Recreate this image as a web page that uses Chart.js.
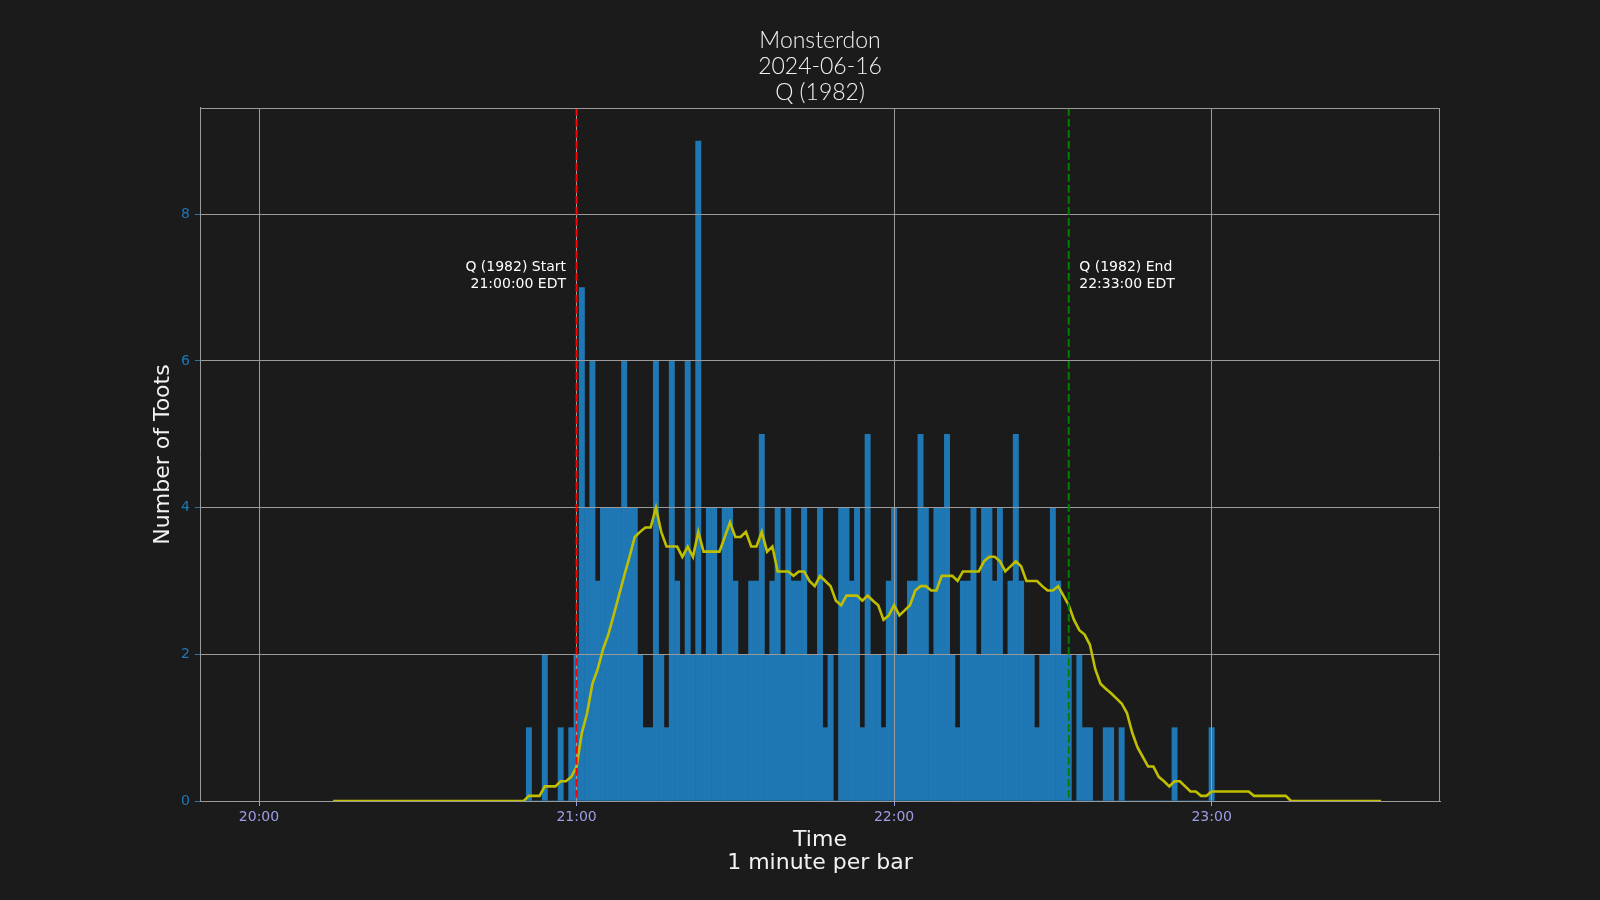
<!DOCTYPE html>
<html>
<head>
<meta charset="utf-8">
<script src="https://cdn.jsdelivr.net/npm/chart.js@4.4.1/dist/chart.umd.min.js"></script>
<style>
  html, body { margin: 0; padding: 0; background: #1b1b1b; }
  #wrap { width: 1600px; height: 900px; }
</style>
</head>
<body>
<div id="wrap"><canvas id="tootChart" width="1600" height="900"></canvas></div>
<script>
const titleLines = ['Monsterdon', '2024-06-16', 'Q (1982)'];
const axisOrigin = '20:00';
const xTickTimes = ['20:00', '21:00', '22:00', '23:00'];
const yTicks = [0, 2, 4, 6, 8];

// toots per minute, one value per minute starting at barStart
const barStart = '20:51';
const tootsPerMinute = [
    1, 0, 0, 2, 0, 0, 1, 0, 1, 2,
    7, 4, 6, 3, 4, 4, 4, 4, 6, 4,
    4, 2, 1, 1, 6, 2, 1, 6, 3, 2,
    6, 2, 9, 2, 4, 4, 2, 4, 4, 3,
    2, 2, 3, 3, 5, 2, 3, 4, 2, 4,
    3, 3, 4, 2, 2, 4, 1, 2, 0, 4,
    4, 3, 4, 1, 5, 2, 2, 1, 3, 4,
    2, 2, 3, 3, 5, 4, 2, 4, 4, 5,
    2, 1, 3, 3, 4, 2, 4, 4, 3, 4,
    2, 3, 5, 3, 2, 2, 1, 2, 2, 4,
    3, 2, 2, 0, 2, 1, 1, 0, 0, 1,
    1, 0, 1, 0, 0, 0, 0, 0, 0, 0,
    0, 0, 1, 0, 0, 0, 0, 0, 0, 1
];

// 15 minute rolling average (yellow line), one value per minute from avgStart
const avgStart = '20:14';
const rollingAvg = [
    0, 0, 0, 0, 0, 0, 0, 0, 0, 0,
    0, 0, 0, 0, 0, 0, 0, 0, 0, 0,
    0, 0, 0, 0, 0, 0, 0, 0, 0, 0,
    0, 0, 0, 0, 0, 0, 0,
    0.07, 0.07, 0.07, 0.2, 0.2, 0.2, 0.27, 0.27, 0.33, 0.47,
    0.93, 1.2, 1.6, 1.8, 2.07, 2.27, 2.53, 2.8, 3.07, 3.33,
    3.6, 3.67, 3.73, 3.73, 4, 3.67, 3.47, 3.47, 3.47, 3.33,
    3.47, 3.33, 3.67, 3.4, 3.4, 3.4, 3.4, 3.6, 3.8, 3.6,
    3.6, 3.67, 3.47, 3.47, 3.67, 3.4, 3.47, 3.13, 3.13, 3.13,
    3.07, 3.13, 3.13, 3, 2.93, 3.07, 3, 2.93, 2.73, 2.67,
    2.8, 2.8, 2.8, 2.73, 2.8, 2.73, 2.67, 2.47, 2.53, 2.67,
    2.53, 2.6, 2.67, 2.87, 2.93, 2.93, 2.87, 2.87, 3.07, 3.07,
    3.07, 3, 3.13, 3.13, 3.13, 3.13, 3.27, 3.33, 3.33, 3.27,
    3.13, 3.2, 3.27, 3.2, 3, 3, 3, 2.93, 2.87, 2.87,
    2.93, 2.8, 2.67, 2.47, 2.33, 2.27, 2.13, 1.8, 1.6, 1.53,
    1.47, 1.4, 1.33, 1.2, 0.93, 0.73, 0.6, 0.47, 0.47, 0.33,
    0.27, 0.2, 0.27, 0.27, 0.2, 0.13, 0.13, 0.07, 0.07, 0.13,
    0.13, 0.13, 0.13, 0.13, 0.13, 0.13, 0.13, 0.07, 0.07, 0.07,
    0.07, 0.07, 0.07, 0.07, 0, 0, 0, 0, 0, 0,
    0, 0, 0, 0, 0, 0, 0, 0, 0, 0, 0, 0
];

const markerTimes = ['21:00', '22:33'];
const markerColors = ['#ff0000', '#008000'];
const markerText = [
    ['Q (1982) Start', '21:00:00 EDT'],
    ['Q (1982) End', '22:33:00 EDT']
];
const markerTextY = 7;

function toMinutes(t) {
    const [h, m] = t.split(':').map(Number);
    const [h0, m0] = axisOrigin.split(':').map(Number);
    return (h * 60 + m) - (h0 * 60 + m0);
}

const barPoints = tootsPerMinute.map((v, i) => ({ x: toMinutes(barStart) + i, y: v }));
const avgPoints = rollingAvg.map((v, i) => ({ x: toMinutes(avgStart) + i, y: v }));

const gridColor = '#9a9a9a';
const yTickColor = '#1f77b4';
const xTickColor = '#9d9de6';

Chart.defaults.font.family = '"DejaVu Sans", sans-serif';
Chart.defaults.color = '#ffffff';

const overlay = {
    id: 'overlay',
    afterDatasetDraw(chart, args) {
        // matplotlib puts the grid above the bars but under the line
        if (args.index !== 1) return;
        chart.scales.x.drawGrid(chart.chartArea);
        chart.scales.y.drawGrid(chart.chartArea);
    },
    afterDatasetsDraw(chart) {
        const { ctx, chartArea: a, scales: { x, y } } = chart;
        ctx.save();
        markerTimes.forEach((t, i) => {
            const px = x.getPixelForValue(toMinutes(t));
            ctx.strokeStyle = markerColors[i];
            ctx.lineWidth = 2;
            ctx.setLineDash([7.7, 3.3]);
            ctx.beginPath();
            ctx.moveTo(px, a.top);
            ctx.lineTo(px, a.bottom);
            ctx.stroke();

            ctx.setLineDash([]);
            ctx.fillStyle = '#ffffff';
            ctx.font = '14px "DejaVu Sans"';
            ctx.textBaseline = 'alphabetic';
            ctx.textAlign = i === 0 ? 'right' : 'left';
            const tx = i === 0 ? px - 10.5 : px + 10.5;
            const base = y.getPixelForValue(markerTextY);
            const lines = markerText[i];
            lines.forEach((line, j) => {
                ctx.fillText(line, tx, base - (lines.length - 1 - j) * 16.3);
            });
        });
        // top and right spines
        ctx.strokeStyle = gridColor;
        ctx.lineWidth = 1;
        ctx.beginPath();
        ctx.moveTo(a.left, a.top + 0.5);
        ctx.lineTo(a.right, a.top + 0.5);
        ctx.moveTo(a.right - 0.5, a.top);
        ctx.lineTo(a.right - 0.5, a.bottom);
        ctx.stroke();
        ctx.restore();
    }
};

const ctx = document.getElementById('tootChart').getContext('2d');
new Chart(ctx, {
    type: 'bar',
    data: {
        datasets: [
            {
                type: 'line',
                label: 'Rolling average',
                data: avgPoints,
                borderColor: '#bfbf00',
                borderWidth: 2.6,
                pointRadius: 0,
                tension: 0,
                fill: false
            },
            {
                type: 'bar',
                label: 'Toots',
                data: barPoints,
                backgroundColor: '#1f77b4',
                borderWidth: 0,
                barPercentage: 1,
                categoryPercentage: 1
            }
        ]
    },
    options: {
        responsive: false,
        animation: false,
        devicePixelRatio: 1,
        layout: {
            padding: { left: 0, top: 0, right: 160, bottom: 0 }
        },
        plugins: {
            legend: { display: false },
            tooltip: { enabled: false },
            title: {
                display: true,
                fullSize: false,
                text: titleLines,
                color: '#f2f2f2',
                font: { family: 'Lato', size: 23, weight: '300', lineHeight: 26 / 23 },
                padding: { top: 28, bottom: 2 }
            }
        },
        scales: {
            x: {
                type: 'linear',
                min: -11.15,
                max: 223.15,
                offset: false,
                afterFit: (s) => { s.height = 99; },
                afterBuildTicks: (s) => { s.ticks = xTickTimes.map(t => ({ value: toMinutes(t) })); },
                ticks: {
                    color: xTickColor,
                    font: { size: 14 },
                    padding: 3,
                    maxRotation: 0,
                    autoSkip: false,
                    callback: (v) => xTickTimes.find(t => toMinutes(t) === v) || ''
                },
                grid: {
                    color: gridColor,
                    lineWidth: 1,
                    offset: false,
                    drawTicks: true,
                    tickLength: 5,
                    tickColor: xTickColor
                },
                border: { color: gridColor, width: 1 },
                title: {
                    display: true,
                    text: ['Time', '1 minute per bar'],
                    color: '#f2f2f2',
                    font: { size: 22, lineHeight: 1.06 },
                    padding: { top: 0, bottom: 25 }
                }
            },
            y: {
                min: 0,
                max: 9.45,
                afterFit: (s) => { s.width = 200; },
                afterBuildTicks: (s) => { s.ticks = yTicks.map(v => ({ value: v })); },
                ticks: {
                    color: yTickColor,
                    font: { size: 14 },
                    padding: 5
                },
                grid: {
                    color: gridColor,
                    lineWidth: 1,
                    drawTicks: true,
                    tickLength: 5,
                    tickColor: yTickColor
                },
                border: { color: gridColor, width: 1 },
                title: {
                    display: true,
                    text: 'Number of Toots',
                    color: '#f2f2f2',
                    font: { size: 22, lineHeight: 1.2 },
                    padding: { top: 150, bottom: 0 }
                }
            }
        }
    },
    plugins: [overlay]
});
</script>
</body>
</html>
